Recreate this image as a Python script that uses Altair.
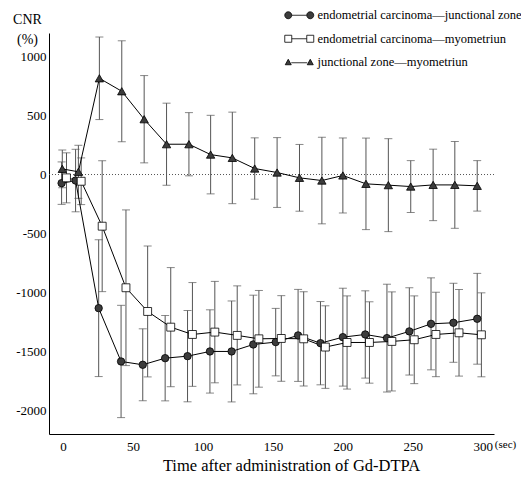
import altair as alt
import pandas as pd

FONT = "Liberation Serif"

series_names = [
    "endometrial carcinoma\u2014junctional zone",
    "endometrial carcinoma\u2014myometriun",
    "junctional zone\u2014myometriun",
]

# endometrial carcinoma - junctional zone (filled circles)
t_ej = [-1, 9, 25.5, 41.5, 57, 73, 89, 105, 120.5, 136, 152, 168, 184, 200, 216, 231.5, 247.5, 263, 279, 296]
m_ej = [-73, -51, -1133, -1585, -1613, -1557, -1540, -1500, -1500, -1441, -1421, -1364, -1430, -1379, -1356, -1387, -1330, -1266, -1257, -1223]
sd_ej = [180, 265, 580, 476, 305, 362, 387, 353, 428, 418, 286, 390, 353, 415, 370, 457, 370, 390, 335, 385]

# endometrial carcinoma - myometrium (open squares)
t_em = [2.5, 13, 28, 45, 60.5, 77, 92.5, 108.5, 124.5, 140, 156, 172, 187.5, 203, 219, 235, 251, 266.5, 283, 299]
m_em = [-28, -57, -438, -960, -1161, -1294, -1356, -1336, -1364, -1393, -1390, -1393, -1463, -1424, -1424, -1415, -1401, -1356, -1342, -1359]
sd_em = [212, 198, 555, 660, 555, 505, 440, 430, 420, 410, 363, 400, 350, 395, 345, 420, 372, 358, 367, 356]

# junctional zone - myometrium (filled triangles)
t_jm = [-0.5, 11, 26, 42, 58, 74, 90, 105.5, 121, 137, 153, 169, 185, 200, 216.5, 232.5, 248.5, 264.5, 280, 296]
m_jm = [48, 23, 816, 706, 469, 257, 257, 169, 141, 51, 17, -28, -51, -8, -79, -90, -102, -88, -88, -96]
sd_jm = [160, 225, 350, 428, 370, 348, 268, 333, 388, 260, 296, 283, 367, 318, 388, 394, 220, 303, 368, 214]

x_ticks = [0, 50, 100, 150, 200, 250, 300]
y_ticks = [-2000, -1500, -1000, -500, 0, 500, 1000]

rows = []
for name, ts, ms, sds in zip(series_names, [t_ej, t_em, t_jm], [m_ej, m_em, m_jm], [sd_ej, sd_em, sd_jm]):
    for t, m, s in zip(ts, ms, sds):
        rows.append({"series": name, "key": name, "t": t, "cnr": m, "lo": m - s, "hi": m + s})
df = pd.DataFrame(rows)

xscale = alt.Scale(domain=[-10, 308], nice=False, zero=False)
yscale = alt.Scale(domain=[-2200, 1200], nice=False, zero=False)

x_axis = alt.Axis(
    values=x_ticks, title="Time after administration of Gd-DTPA", grid=False,
    tickSize=0, labelPadding=6, labelFontSize=13, titleFontSize=16.5,
    labelFont=FONT, titleFont=FONT,
    titleFontWeight="normal", titlePadding=4, titleX=242, labelExpr="'' + datum.value",
)
y_axis = alt.Axis(
    values=y_ticks, title=["CNR", "(%)"], grid=False, tickSize=0, labelPadding=3,
    labelFont=FONT, titleFont=FONT,
    labelFontSize=13, titleFontSize=14, titleFontWeight="normal", titleAngle=0,
    titleAlign="center", titleBaseline="top", titleX=-22, titleY=-21, titleLineHeight=20,
    labelExpr="'' + datum.value",
)

X = alt.X("t:Q", scale=xscale, axis=x_axis)
base = alt.Chart(df)

ref = alt.Chart(pd.DataFrame({"zero": [0]}))
hline = ref.mark_rule(color="#555", strokeDash=[1, 2], strokeWidth=1).encode(y=alt.Y("zero:Q", scale=yscale, axis=y_axis))
vline = ref.mark_rule(color="black", strokeWidth=1).encode(x=X)

err = base.mark_rule(color="#555", strokeWidth=1).encode(x=X, y=alt.Y("lo:Q", scale=yscale, axis=y_axis), y2="hi:Q")
cap_lo = base.mark_tick(orient="horizontal", size=8, thickness=1, color="#555").encode(x=X, y=alt.Y("lo:Q", scale=yscale, axis=y_axis))
cap_hi = base.mark_tick(orient="horizontal", size=8, thickness=1, color="#555").encode(x=X, y=alt.Y("hi:Q", scale=yscale, axis=y_axis))

line = base.mark_line(color="black", strokeWidth=1).encode(
    x=X, y=alt.Y("cnr:Q", scale=yscale, axis=y_axis), detail="series:N", order="t:Q"
)

points = base.mark_point(filled=True, stroke="black", strokeWidth=0.8, opacity=1).encode(
    x=X,
    y=alt.Y("cnr:Q", scale=yscale, axis=y_axis),
    shape=alt.Shape("series:N", scale=alt.Scale(domain=series_names, range=["circle", "square", "triangle-up"]), legend=None),
    fill=alt.Fill("series:N", scale=alt.Scale(domain=series_names, range=["#3c3c3c", "white", "#3c3c3c"]), legend=None),
    size=alt.Size("series:O", scale=alt.Scale(domain=series_names, range=[55, 70, 55]), legend=None),
)

p_circ = ("M-2.9,0A0.7,0.7,0,1,0,-1.5,0A0.7,0.7,0,1,0,-2.9,0Z "
          "M-1.5,0L1.5,0 "
          "M1.5,0A0.7,0.7,0,1,0,2.9,0A0.7,0.7,0,1,0,1.5,0Z")
p_sq = "M-2.9,-0.7H-1.5V0.7H-2.9Z M-1.5,0L1.5,0 M1.5,-0.7H2.9V0.7H1.5Z"
p_tri = "M-2.2,-0.6L-1.6,0.5L-2.8,0.5Z M-1.6,0.1L1.6,0.1 M2.2,-0.6L2.8,0.5L1.6,0.5Z"

leg = alt.Legend(
    orient="none", legendX=244, legendY=-24, title=None, labelFont=FONT, labelFontSize=12.5,
    labelColor="black", labelLimit=0, symbolSize=100, symbolStrokeColor="black", symbolStrokeWidth=0.8,
    symbolOpacity=1, labelOffset=12, rowPadding=10.5, padding=0,
)
legend_layer = base.mark_point(filled=True, opacity=0, strokeWidth=0.8).encode(
    x=X,
    y=alt.Y("cnr:Q", scale=yscale, axis=y_axis),
    shape=alt.Shape("key:N", scale=alt.Scale(domain=series_names, range=[p_circ, p_sq, p_tri]), legend=leg, sort=series_names),
    fill=alt.Fill("key:N", scale=alt.Scale(domain=series_names, range=["#3c3c3c", "white", "#3c3c3c"]), legend=leg, sort=series_names),
    stroke=alt.Stroke("key:N", scale=alt.Scale(domain=series_names, range=["black", "black", "black"]), legend=leg, sort=series_names),
)

sec = alt.Chart(pd.DataFrame({"t": [300], "y": [-2200], "txt": ["(sec)"]})).mark_text(
    align="left", baseline="middle", dx=12, dy=11, font=FONT, fontSize=11, color="black"
).encode(x=X, y=alt.Y("y:Q", scale=yscale, axis=y_axis), text="txt:N")

chart = alt.layer(hline, vline, err, cap_lo, cap_hi, line, points, legend_layer, sec).resolve_scale(
    shape="independent", fill="independent", stroke="independent"
).properties(
    width=445, height=401,
    autosize=alt.AutoSizeParams(type="none"),
    padding={"left": 41, "top": 25, "right": 27, "bottom": 41},
).configure(font=FONT).configure_view(stroke=None).configure_axis(
    labelFont=FONT, titleFont=FONT, labelColor="black", titleColor="black",
    domainColor="black", domainWidth=1,
).configure_legend(labelFont=FONT)

chart.save("out.html", embed_options={"renderer": "svg", "actions": False})
